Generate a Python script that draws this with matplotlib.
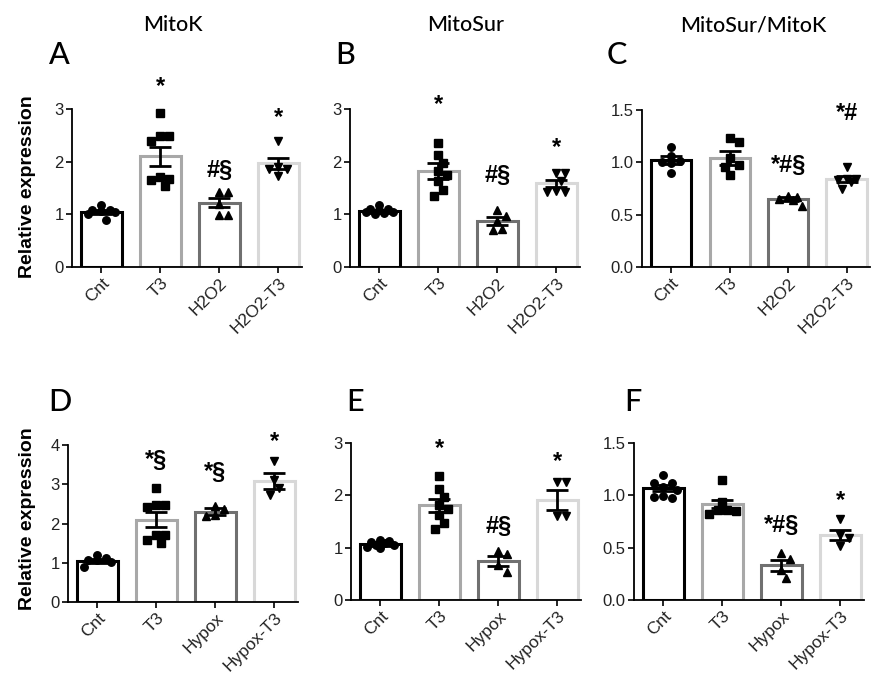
import numpy as np
import matplotlib
matplotlib.use("Agg")
import matplotlib.pyplot as plt

# ---------------- data ----------------
groups_top = ["Cnt", "T3", "H2O2", "H2O2-T3"]
groups_bot = ["Cnt", "T3", "Hypox", "Hypox-T3"]

titles = ["MitoK", "MitoSur", "MitoSur/MitoK"]
letters = ["A", "B", "C", "D", "E", "F"]

# Panel A (MitoK, H2O2)
A_means = [1.04, 2.10, 1.22, 1.97]
A_sems = [0.04, 0.18, 0.085, 0.10]
A_pts = [[1.09, 1.08, 1.06, 1.04, 1.00, 1.18, 0.89],
         [2.92, 2.48, 2.40, 2.48, 1.70, 1.65, 1.53, 1.68],
         [1.42, 1.42, 1.20, 0.98, 0.98],
         [2.39, 1.90, 1.87, 1.87, 1.72]]
A_ann = ["", "*", "#§", "*"]
A_ann_y = [0, 3.42, 1.84, 2.83]

# Panel B (MitoSur, H2O2)
B_means = [1.06, 1.82, 0.87, 1.59]
B_sems = [0.03, 0.15, 0.08, 0.07]
B_pts = [[1.10, 1.04, 1.08, 1.17, 1.02, 1.05, 1.10, 1.00],
         [2.35, 2.12, 1.97, 1.82, 1.74, 1.63, 1.47, 1.34],
         [1.09, 0.96, 0.88, 0.72, 0.70],
         [1.78, 1.78, 1.63, 1.42, 1.42, 1.45]]
B_ann = ["", "*", "#§", "*"]
B_ann_y = [0, 3.08, 1.73, 2.26]

# Panel C (ratio, H2O2)
C_means = [1.02, 1.04, 0.65, 0.84]
C_sems = [0.04, 0.065, 0.02, 0.03]
C_pts = [[1.15, 0.99, 1.06, 1.00, 1.01, 0.90],
         [1.23, 1.19, 1.04, 0.97, 0.96, 0.88],
         [0.68, 0.67, 0.65, 0.64, 0.58],
         [0.96, 0.84, 0.84, 0.83, 0.81, 0.75]]
C_ann = ["", "", "*#§", "*#"]
C_ann_y = [0, 0, 0.97, 1.47]

# Panel D (MitoK, Hypoxia)
D_means = [1.05, 2.10, 2.30, 3.08]
D_sems = [0.05, 0.19, 0.09, 0.20]
D_pts = [[1.12, 1.19, 1.06, 1.02, 1.08, 0.89],
         [2.91, 2.47, 2.41, 2.47, 1.70, 1.70, 1.57, 1.51],
         [2.44, 2.36, 2.21, 2.19],
         [3.60, 3.11, 2.91, 2.72]]
D_ann = ["", "*§", "*§", "*"]
D_ann_y = [0, 3.6, 3.3, 4.08]

# Panel E (MitoSur, Hypoxia)
E_means = [1.07, 1.81, 0.75, 1.91]
E_sems = [0.03, 0.12, 0.10, 0.19]
E_pts = [[1.12, 1.05, 1.09, 1.15, 1.02, 1.05, 1.10, 1.00],
         [2.36, 2.12, 1.97, 1.82, 1.74, 1.63, 1.47, 1.35],
         [0.93, 0.87, 0.66, 0.53],
         [2.25, 2.25, 1.60, 1.60]]
E_ann = ["", "*", "#§", "*"]
E_ann_y = [0, 2.90, 1.41, 2.64]

# Panel F (ratio, Hypoxia)
F_means = [1.07, 0.92, 0.33, 0.62]
F_sems = [0.025, 0.04, 0.05, 0.045]
F_pts = [[1.19, 1.12, 1.12, 1.08, 1.05, 0.99, 0.97, 0.98],
         [1.15, 0.86, 0.82, 0.85, 0.86, 0.94],
         [0.45, 0.39, 0.29, 0.21],
         [0.77, 0.62, 0.59, 0.52]]
F_ann = ["", "", "*#§", "*"]
F_ann_y = [0, 0, 0.71, 0.95]

ylims = [3, 3, 1.5, 4, 3, 1.5]
yticks = [[0, 1, 2, 3], [0, 1, 2, 3], [0.0, 0.5, 1.0, 1.5],
          [0, 1, 2, 3, 4], [0, 1, 2, 3], [0.0, 0.5, 1.0, 1.5]]
ytick_labels = [["0", "1", "2", "3"], ["0", "1", "2", "3"],
                ["0.0", "0.5", "1.0", "1.5"],
                ["0", "1", "2", "3", "4"], ["0", "1", "2", "3"],
                ["0.0", "0.5", "1.0", "1.5"]]

# ---------------- style ----------------
edge_colors = ["#000000", "#a8a8a8", "#707070", "#d8d8d8"]
markers = ["o", "s", "^", "v"]
W, H = 871, 678
fig = plt.figure(figsize=(W / 100, H / 100), dpi=100)

# axes boxes in pixel coords: left, right, bottom(y0), top(ymax)
boxes = [(72, 302, 267, 109), (350, 580, 267, 109), (642, 870, 267, 110),
         (68, 298, 602, 445), (351, 581, 600, 443), (634, 864, 600, 443)]

panels = [(A_means, A_sems, A_pts, A_ann, A_ann_y, groups_top),
          (B_means, B_sems, B_pts, B_ann, B_ann_y, groups_top),
          (C_means, C_sems, C_pts, C_ann, C_ann_y, groups_top),
          (D_means, D_sems, D_pts, D_ann, D_ann_y, groups_bot),
          (E_means, E_sems, E_pts, E_ann, E_ann_y, groups_bot),
          (F_means, F_sems, F_pts, F_ann, F_ann_y, groups_bot)]

tick_font = "Liberation Sans"


def swarm(ax, x0, ys, diam, max_off=16.0):
    disp = ax.transData.transform(np.column_stack([np.full(len(ys), x0), ys]))
    order = np.argsort(-np.asarray(ys))
    placed = []
    out = np.zeros_like(disp)
    for i in order:
        px, py = disp[i]
        best, best_cost = px, None
        for k in range(0, 20):
            cands = [0.0] if k == 0 else [k * diam * 0.5, -k * diam * 0.5]
            found = False
            for c in cands:
                if abs(c) > max_off:
                    continue
                nx = px + c
                dmin = min([np.hypot(nx - qx, py - qy) for qx, qy in placed] + [1e9])
                if dmin >= diam:
                    best, found = nx, True
                    break
                if best_cost is None or dmin > best_cost:
                    best, best_cost = nx, dmin
            if found:
                break
        placed.append((best, py))
        out[i] = (best, py)
    return ax.transData.inverted().transform(out)


for idx, (means, sems, pts, ann, ann_y, groups) in enumerate(panels):
    l, r, b, t = boxes[idx]
    ax = fig.add_axes([l / W, 1 - b / H, (r - l) / W, (b - t) / H])
    x = np.arange(len(groups))
    ax.set_xlim(-0.5, 3.4)
    ax.set_ylim(0, ylims[idx])
    ax.bar(x, means, width=0.69, facecolor="white", edgecolor=edge_colors,
           linewidth=2.2, zorder=1)
    for i in range(len(groups)):
        xy = swarm(ax, x[i], pts[i], 9.0)
        ax.plot(xy[:, 0], xy[:, 1], linestyle="none", marker=markers[i],
                markersize=5.4, color="black", zorder=3, clip_on=False)
        ax.errorbar(x[i], means[i], yerr=sems[i], color="black", capsize=8,
                    elinewidth=2, capthick=2, zorder=4)
        if ann[i]:
            ax.text(x[i], ann_y[i], ann[i], ha="center", va="center",
                    fontsize=17, fontweight="bold", family=tick_font,
                    clip_on=False)
    ax.spines["top"].set_visible(False)
    ax.spines["right"].set_visible(False)
    ax.spines["left"].set_linewidth(1.3)
    ax.spines["bottom"].set_linewidth(1.3)
    ax.set_yticks(yticks[idx])
    ax.set_yticklabels(ytick_labels[idx], fontsize=12, family=tick_font,
                       color="#222222")
    ax.set_xticks(x)
    ax.set_xticklabels(groups, rotation=45, ha="right", rotation_mode="anchor",
                       fontsize=12.5, family=tick_font, color="#222222")
    ax.tick_params(axis="both", direction="out", length=4, width=1.2, pad=2)

# titles
title_x = [173, 466, 753]
for tx, tt in zip(title_x, titles):
    fig.text(tx / W, 1 - 25 / H, tt, ha="center", va="center", fontsize=15.5,
             family="Lato", fontweight="medium")

letter_pos = [(59, 55), (345, 55), (617, 55), (60, 402), (355, 402), (633, 402)]
for (lx, ly), lt in zip(letter_pos, letters):
    fig.text(lx / W, 1 - ly / H, lt, ha="center", va="center", fontsize=22,
             family="Lato", fontweight="medium")

for cy in [187, 519]:
    fig.text(27 / W, 1 - cy / H, "Relative expression", rotation=90,
             ha="center", va="center", fontsize=14, fontweight="bold",
             family=tick_font)

fig.savefig("out.png", dpi=100, facecolor="white")
